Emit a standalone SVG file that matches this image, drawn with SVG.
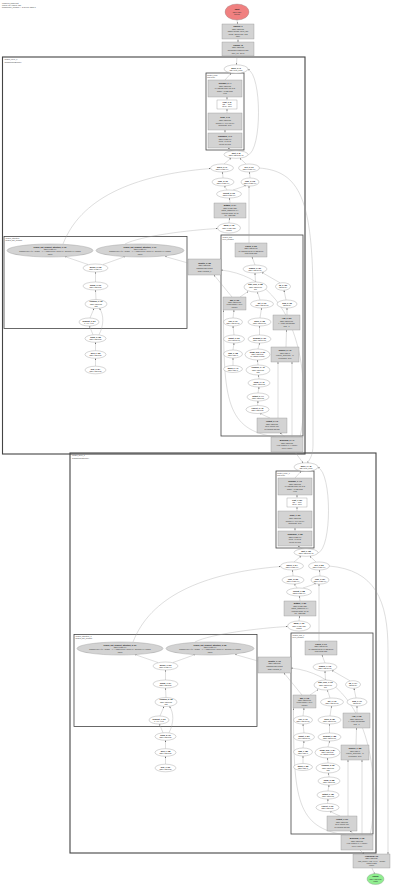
<svg xmlns="http://www.w3.org/2000/svg" width="400" height="886" viewBox="0 0 400 886">
<style>
text{font-family:"Liberation Sans",Arial,sans-serif;font-size:1.9px;fill:#333;text-anchor:middle}
.h{text-anchor:start;fill:#444}
.b{font-weight:bold;fill:#111}
.n ellipse{fill:#fff;stroke:#8a8a8a;stroke-width:0.35}
.g rect{fill:#d3d3d3;stroke:#8a8a8a;stroke-width:0.35}
.w rect{fill:#fff;stroke:#8a8a8a;stroke-width:0.35}
.G ellipse{fill:#d3d3d3;stroke:#8a8a8a;stroke-width:0.35}
.cl{fill:none;stroke:#444;stroke-width:0.8}
.co{fill:none;stroke:#444;stroke-width:1.1}
#edges path{fill:none;stroke:#a0a0a0;stroke-width:0.35;marker-end:url(#a)}
</style>
<defs>
<marker id="a" viewBox="0 0 10 10" refX="10" refY="5" markerUnits="userSpaceOnUse" markerWidth="1.6" markerHeight="1.6" orient="auto"><path d="M0,0L10,5L0,10z" fill="#666"/></marker>
</defs>
<rect width="400" height="886" fill="#fff"/>
<g id="header"><text class="h" x="2" y="3.5">compiled_graph.dot</text><text class="h" x="2" y="5.7">nodes: 114  edges: 136</text><text class="h" x="2" y="7.9">transformer_forward — 2 layers, batch 1</text></g>

<g id="clusters">
<rect class="co" x="2.5" y="57" width="302.5" height="397"/>
<text class="h" x="4.5" y="60.3">cluster_layer_0</text><text class="h" x="4.5" y="62.5">TransformerBlock[0]</text>
<rect class="cl" x="206" y="73" width="38" height="77"/>
<text class="h" x="207" y="75.8">cluster_body</text><text class="h" x="207" y="77.9">loop body</text>
<rect class="cl" x="4" y="236.5" width="183" height="92"/>
<text class="h" x="5.5" y="239.3">cluster_attention</text><text class="h" x="5.5" y="241.4">scaled_dot_product</text>
<rect class="cl" x="221" y="235" width="82" height="201"/>
<text class="h" x="222.5" y="237.8">cluster_mlp</text><text class="h" x="222.5" y="239.9">feed_forward</text>
<g transform="translate(70,398)">
<rect class="co" x="0" y="55" width="306" height="400"/>
<text class="h" x="2" y="58.3">cluster_layer_1</text><text class="h" x="2" y="60.5">TransformerBlock[1]</text>
<rect class="cl" x="206" y="73" width="38" height="77"/>
<text class="h" x="207" y="75.8">cluster_body_1</text><text class="h" x="207" y="77.9">loop body</text>
<rect class="cl" x="4" y="236.5" width="183" height="92"/>
<text class="h" x="5.5" y="239.3">cluster_attention_1</text><text class="h" x="5.5" y="241.4">scaled_dot_product</text>
<rect class="cl" x="221" y="235" width="82" height="201"/>
<text class="h" x="222.5" y="237.8">cluster_mlp_1</text><text class="h" x="222.5" y="239.9">feed_forward</text>
</g>
</g>

<g id="edges">
<path d="M237,20L237.5,24"/>
<path d="M238,39L238,42"/>
<path d="M237,56L236.5,64.8"/>
<path d="M259,168C300,171 313,200 313,300L313,445C313,455 310,459 307.5,462.8"/>
<path d="M295,452L303,462.9"/>
<path d="M360,850L364,854"/>
<path d="M372,868L374.5,874"/>
<g id="edges-l0">
<path d="M225,80L231,73.3"/>
<path d="M227,100L227,97"/>
<path d="M227,113L227,109"/>
<path d="M225,133L225,130"/>
<path d="M232,150.7L228,148"/>
<path d="M248,155C262,150 262,75 248,69.5"/>
<path d="M224,164L231,158.2"/>
<path d="M246,164L240,158.2"/>
<path d="M223,178L222.5,172"/>
<path d="M250,178L249.5,172"/>
<path d="M227,190L224.5,186"/>
<path d="M233,190L246,185.6"/>
<path d="M230,203L229.5,198"/>
<path d="M229,223L229.5,218"/>
<path d="M249,243L249,186"/>
<path d="M63,244C80,200 130,175 210.6,168.5"/>
<path d="M125,244C140,236 190,230 217.6,228.5"/>
<path d="M88,264.5L65,256.6"/>
<path d="M103,264.5L125,256.6"/>
<path d="M188,263L165,256.5"/>
<path d="M95.5,282L95.5,272"/>
<path d="M96,299.5L95.5,290"/>
<path d="M90,318L94,308.5"/>
<path d="M93,334.8L89.5,326"/>
<path d="M99,334.8C104,325 104,315 99.5,308.3"/>
<path d="M95.5,350.7L95.5,342.3"/>
<path d="M95.5,366.2L95.5,358.3"/>
<path d="M232,297L214,275"/>
<path d="M300,437C309,400 309,280 221,270"/>
<path d="M255,265L252,257"/>
<path d="M255.5,282L255,273"/>
<path d="M280,282.8L262,272.5"/>
<path d="M240,297L248,291.5"/>
<path d="M260,300L257.5,292"/>
<path d="M286,300L284,290.3"/>
<path d="M233,318L234,310"/>
<path d="M260,318L261.5,308"/>
<path d="M287,315L287,308"/>
<path d="M234,335L233,326"/>
<path d="M259.5,335L259.5,326"/>
<path d="M233,350L234,343"/>
<path d="M258,349L259.5,343"/>
<path d="M286,347L286.5,330"/>
<path d="M233,365.5L233,358"/>
<path d="M258,365L257.5,360"/>
<path d="M259,379L258.5,375"/>
<path d="M258,393L259,387"/>
<path d="M257.5,405.5L258,401"/>
<path d="M270,418L260,413.5"/>
<path d="M285,437L280,433"/>
<path d="M292,437L292,362"/>
<path d="M278,418L278,362"/>
<path d="M276,437C226,430 223.5,400 223.5,310.2"/>
</g>
<g id="edges-l1" transform="translate(70,398)">
<path d="M259,168C305,172 318,202 318,252L318,456"/>
<path d="M225,80L231,73.3"/>
<path d="M227,100L227,97"/>
<path d="M227,113L227,109"/>
<path d="M225,133L225,130"/>
<path d="M232,150.7L228,148"/>
<path d="M248,155C262,150 262,75 248,69.5"/>
<path d="M224,164L231,158.2"/>
<path d="M246,164L240,158.2"/>
<path d="M223,178L222.5,172"/>
<path d="M250,178L249.5,172"/>
<path d="M227,190L224.5,186"/>
<path d="M233,190L246,185.6"/>
<path d="M230,203L229.5,198"/>
<path d="M229,223L229.5,218"/>
<path d="M249,243L249,186"/>
<path d="M63,244C80,200 130,175 210.6,168.5"/>
<path d="M125,244C140,236 190,230 217.6,228.5"/>
<path d="M88,264.5L65,256.6"/>
<path d="M103,264.5L125,256.6"/>
<path d="M188,263L165,256.5"/>
<path d="M95.5,282L95.5,272"/>
<path d="M96,299.5L95.5,290"/>
<path d="M90,318L94,308.5"/>
<path d="M93,334.8L89.5,326"/>
<path d="M99,334.8C104,325 104,315 99.5,308.3"/>
<path d="M95.5,350.7L95.5,342.3"/>
<path d="M95.5,366.2L95.5,358.3"/>
<path d="M232,297L214,275"/>
<path d="M300,437C309,400 309,280 221,270"/>
<path d="M255,265L252,257"/>
<path d="M255.5,282L255,273"/>
<path d="M280,282.8L262,272.5"/>
<path d="M240,297L248,291.5"/>
<path d="M260,300L257.5,292"/>
<path d="M286,300L284,290.3"/>
<path d="M233,318L234,310"/>
<path d="M260,318L261.5,308"/>
<path d="M287,315L287,308"/>
<path d="M234,335L233,326"/>
<path d="M259.5,335L259.5,326"/>
<path d="M233,350L234,343"/>
<path d="M258,349L259.5,343"/>
<path d="M286,347L286.5,330"/>
<path d="M233,365.5L233,358"/>
<path d="M258,365L257.5,360"/>
<path d="M259,379L258.5,375"/>
<path d="M258,393L259,387"/>
<path d="M257.5,405.5L258,401"/>
<path d="M270,418L260,413.5"/>
<path d="M285,437L280,433"/>
<path d="M292,437L292,362"/>
<path d="M278,418L278,362"/>
<path d="M276,437C226,430 223.5,400 223.5,310.2"/>
</g>
</g>

<g id="start" class="n"><ellipse cx="237" cy="12" rx="12" ry="8" style="fill:#f08080"/><text class="b" x="237" y="10.3">input</text><text x="237" y="12.6">f32[1,128]</text><text x="237" y="14.9">tokens</text></g>
<g id="embed" class="g"><rect x="222" y="24" width="32" height="15"/><text class="b" x="238" y="27.15">Embed #1</text><text x="238" y="29.65">f32[1,128,512]</text><text x="238" y="32.15">gather(weight, input_ids)</text><text x="238" y="34.65">vocab=32000 dim=512</text><text x="238" y="37.15">table</text></g>
<g id="posenc" class="g"><rect x="222" y="42" width="32" height="14"/><text class="b" x="238" y="45.75">PosEnc #2</text><text x="238" y="48.35">f32[1,128,512]</text><text x="238" y="50.95">sinusoidal positional add</text><text x="238" y="53.55">max_len=2048</text></g>

<g id="layer0">
<g id="while_0" class="n"><ellipse cx="236" cy="69" rx="12" ry="4.2"/><text class="b" x="236" y="68.55">while_0 #3</text><text x="236" y="70.75">i32[] loop_cond</text></g>
<g id="reshape_0" class="g"><rect x="208" y="80" width="34" height="17"/><text class="b" x="225" y="84">Reshape_0 #4</text><text x="225" y="86.6">f32[1,128,512]</text><text x="225" y="89.2">in: f32[128,512] out: 3-D</text><text x="225" y="91.8">shape=(1,128,512)</text><text x="225" y="94.4">view</text></g>
<g id="cast_0" class="w"><rect x="217" y="100" width="20" height="9"/><text class="b" x="227" y="102.85">Cast_0 #5</text><text x="227" y="105.15">f32 → bf16</text><text x="227" y="107.45">dtype=bf16</text></g>
<g id="scale_0" class="g"><rect x="208" y="113" width="34" height="17"/><text class="b" x="225" y="117.95">Scale_0 #6</text><text x="225" y="120.75">f32[1,128,512]</text><text x="225" y="123.55">multiply(x, 0.0441941)</text><text x="225" y="126.35">broadcast=True</text></g>
<g id="transpose_0" class="g"><rect x="208" y="133" width="34" height="15"/><text class="b" x="225" y="137.25">Transpose_0 #7</text><text x="225" y="139.85">f32[1,8,128,64]</text><text x="225" y="142.45">perm=(0,2,1,3)</text><text x="225" y="145.05">layout: NHWC</text></g>
<g id="split_0" class="n"><ellipse cx="236" cy="154.5" rx="12" ry="3.8"/><text class="b" x="236" y="154.05">split_0 #8</text><text x="236" y="156.25">f32[1,128,512] x2</text></g>
<g id="query_0" class="n"><ellipse cx="222" cy="168" rx="11.5" ry="4"/><text class="b" x="222" y="167.55">query_0 #9</text><text x="222" y="169.75">f32[1,8,128,64]</text></g>
<g id="key_0" class="n"><ellipse cx="249" cy="168" rx="10.5" ry="4"/><text class="b" x="249" y="167.55">key_0 #10</text><text x="249" y="169.75">f32[1,8,128,64]</text></g>
<g id="rope_q_0" class="n"><ellipse cx="223" cy="182" rx="11" ry="4"/><text class="b" x="223" y="181.55">rope_q #11</text><text x="223" y="183.75">f32[1,8,128,64]</text></g>
<g id="rope_k_0" class="n"><ellipse cx="250" cy="182" rx="9" ry="4"/><text class="b" x="250" y="181.55">rope_k #12</text><text x="250" y="183.75">f32[1,8,128,64]</text></g>
<g id="concat_0" class="n"><ellipse cx="229" cy="194" rx="12.5" ry="4"/><text class="b" x="229" y="193.55">concat_0 #13</text><text x="229" y="195.75">f32[2,8,128,64]</text></g>
<g id="matmul_0" class="g"><rect x="214" y="203" width="32" height="15"/><text class="b" x="230" y="206.15">MatMul_0 #14</text><text x="230" y="208.65">f32[1,8,128,128]</text><text x="230" y="211.15">batch_matmul(q, kᵀ)</text><text x="230" y="213.65">contract dims: [3],[3]</text><text x="230" y="216.15">tile=128x128</text></g>
<g id="mask_0" class="n"><ellipse cx="229" cy="228" rx="11.5" ry="5"/><text class="b" x="229" y="226.45">mask_0 #15</text><text x="229" y="228.65">f32[1,1,128,128]</text><text x="229" y="230.85">causal</text></g>
<g id="sdpa_0a" class="G"><ellipse cx="50" cy="250.5" rx="43" ry="6.5"/><text class="b" x="50" y="247.7">scaled_dot_product_attention_0 #16</text><text x="50" y="250">f32[1,8,128,64]</text><text x="50" y="252.3">softmax(QKᵀ/√d + mask) · V — flash kernel, block 64, dropout 0.0, causal</text><text x="50" y="254.6">fused</text></g>
<g id="sdpa_0b" class="G"><ellipse cx="140" cy="250.5" rx="44" ry="6.5"/><text class="b" x="140" y="247.7">scaled_dot_product_attention_1 #17</text><text x="140" y="250">f32[1,8,128,64]</text><text x="140" y="252.3">softmax(QKᵀ/√d + mask) · V — flash kernel, block 64, dropout 0.0, causal</text><text x="140" y="254.6">fused</text></g>
<g id="merge_0" class="n"><ellipse cx="95.5" cy="268" rx="12.5" ry="4"/><text class="b" x="95.5" y="267.55">merge_0 #18</text><text x="95.5" y="269.75">f32[1,8,128,64]</text></g>
<g id="heads_0" class="n"><ellipse cx="95.5" cy="286" rx="12.5" ry="4"/><text class="b" x="95.5" y="285.55">heads_0 #19</text><text x="95.5" y="287.75">f32[1,128,512]</text></g>
<g id="residual_0" class="n"><ellipse cx="96" cy="304" rx="11" ry="4.5"/><text class="b" x="96" y="302.45">residual_0 #20</text><text x="96" y="304.65">f32[1,128,512]</text><text x="96" y="306.85">add</text></g>
<g id="dropout_0" class="n"><ellipse cx="89" cy="322" rx="10" ry="4"/><text class="b" x="89" y="321.55">dropout_0 #21</text><text x="89" y="323.75">p=0.0, eval</text></g>
<g id="norm_0" class="n"><ellipse cx="95.5" cy="338.5" rx="10.5" ry="3.8"/><text class="b" x="95.5" y="338.05">norm_0 #22</text><text x="95.5" y="340.25">f32[1,128,512]</text></g>
<g id="gelu_0" class="n"><ellipse cx="95.5" cy="354.5" rx="10.5" ry="3.8"/><text class="b" x="95.5" y="354.05">gelu_0 #23</text><text x="95.5" y="356.25">f32[1,128,512]</text></g>
<g id="proj_0" class="n"><ellipse cx="95.5" cy="370" rx="10.5" ry="3.8"/><text class="b" x="95.5" y="369.55">proj_0 #24</text><text x="95.5" y="371.75">f32[1,128,512]</text></g>
<g id="identity_0" class="g"><rect x="188" y="259" width="33" height="16"/><text class="b" x="204.5" y="263.75">Identity_0 #25</text><text x="204.5" y="266.35">f32[1,128,512]</text><text x="204.5" y="268.95">passthrough output</text><text x="204.5" y="271.55">alias: residual_0</text></g>
<g id="linear_0" class="g"><rect x="235" y="243" width="32" height="14"/><text class="b" x="251" y="246.9">Linear_0 #26</text><text x="251" y="249.4">f32[1,128,2048]</text><text x="251" y="251.9">W: f32[512,2048] b: f32[2048]</text><text x="251" y="254.4">fused bias add</text></g>
<g id="hidden_0" class="n"><ellipse cx="255" cy="269" rx="12" ry="4"/><text class="b" x="255" y="268.55">hidden_0 #27</text><text x="255" y="270.75">f32[1,128,2048]</text></g>
<g id="gate_0" class="n"><ellipse cx="255.5" cy="287" rx="11.5" ry="5"/><text class="b" x="255.5" y="285.45">gate_proj_0 #28</text><text x="255.5" y="287.65">f32[1,128,2048]</text><text x="255.5" y="289.85">silu</text></g>
<g id="up_0" class="n"><ellipse cx="283" cy="286.5" rx="7.5" ry="3.8"/><text class="b" x="283" y="286.05">up_0 #29</text><text x="283" y="288.25">f32[2048]</text></g>
<g id="mul_0" class="g"><rect x="223" y="297" width="23" height="13"/><text class="b" x="234.5" y="300.55">Mul_0 #30</text><text x="234.5" y="302.95">f32[1,128,2048]</text><text x="234.5" y="305.35">elementwise x·σ(x)</text><text x="234.5" y="307.75">inplace</text></g>
<g id="act_0" class="n"><ellipse cx="262" cy="304" rx="11.5" ry="4"/><text class="b" x="262" y="303.55">act_0 #31</text><text x="262" y="305.75">f32[1,128,2048]</text></g>
<g id="bias_0" class="n"><ellipse cx="287" cy="304" rx="10" ry="4"/><text class="b" x="287" y="303.55">bias_0 #32</text><text x="287" y="305.75">f32[2048]</text></g>
<g id="add_0" class="g"><rect x="273" y="315" width="27" height="15"/><text class="b" x="286.5" y="319.25">Add_0 #33</text><text x="286.5" y="321.85">f32[1,128,2048]</text><text x="286.5" y="324.45">x + bias (broadcast)</text><text x="286.5" y="327.05">axis=-1</text></g>
<g id="clip_0" class="n"><ellipse cx="233" cy="322" rx="9.5" ry="4"/><text class="b" x="233" y="321.55">clip_0 #34</text><text x="233" y="323.75">f32[1,128,2048]</text></g>
<g id="scale_1" class="n"><ellipse cx="259.5" cy="322" rx="11.5" ry="4"/><text class="b" x="259.5" y="321.55">scale_1 #35</text><text x="259.5" y="323.75">f32[1,128,2048]</text></g>
<g id="quant_0" class="n"><ellipse cx="234" cy="339" rx="10.5" ry="4"/><text class="b" x="234" y="338.55">quant_0 #36</text><text x="234" y="340.75">i8[1,128,2048]</text></g>
<g id="dequant_0" class="n"><ellipse cx="259.5" cy="339" rx="11.5" ry="4"/><text class="b" x="259.5" y="338.55">dequant_0 #37</text><text x="259.5" y="340.75">f32[1,128,2048]</text></g>
<g id="sum_0" class="n"><ellipse cx="233" cy="354" rx="9.5" ry="4"/><text class="b" x="233" y="353.55">sum_0 #38</text><text x="233" y="355.75">f32[1,128,1]</text></g>
<g id="down_0" class="n"><ellipse cx="257.5" cy="354.5" rx="12.5" ry="5.5"/><text class="b" x="257.5" y="352.95">down_proj_0 #39</text><text x="257.5" y="355.15">f32[1,128,512]</text><text x="257.5" y="357.35">W: f32[2048,512]</text></g>
<g id="reduce_0" class="g"><rect x="271" y="347" width="28" height="15"/><text class="b" x="285" y="351.25">Reduce_0 #40</text><text x="285" y="353.85">f32[1,128,1]</text><text x="285" y="356.45">reduce_sum(axis=-1)</text><text x="285" y="359.05">keepdims=True</text></g>
<g id="mean_0" class="n"><ellipse cx="233" cy="369" rx="9.5" ry="3.5"/><text class="b" x="233" y="368.55">mean_0 #41</text><text x="233" y="370.75">f32[1,128,1]</text></g>
<g id="residual_1" class="n"><ellipse cx="258" cy="370" rx="12" ry="5"/><text class="b" x="258" y="368.45">residual_1 #42</text><text x="258" y="370.65">f32[1,128,512]</text><text x="258" y="372.85">add</text></g>
<g id="norm_1" class="n"><ellipse cx="259" cy="383" rx="11" ry="4"/><text class="b" x="259" y="382.55">norm_1 #43</text><text x="259" y="384.75">f32[1,128,512]</text></g>
<g id="output_0" class="n"><ellipse cx="258" cy="397" rx="11" ry="4"/><text class="b" x="258" y="396.55">output_0 #44</text><text x="258" y="398.75">f32[1,128,512]</text></g>
<g id="collect_0" class="n"><ellipse cx="257.5" cy="409.5" rx="11.5" ry="4"/><text class="b" x="257.5" y="409.05">collect_0 #45</text><text x="257.5" y="411.25">f32[1,128,512]</text></g>
<g id="ffn_out_0" class="g"><rect x="257" y="418" width="30" height="15"/><text class="b" x="272" y="422.25">Output_0 #46</text><text x="272" y="424.85">f32[1,128,512]</text><text x="272" y="427.45">layer output (ffn)</text><text x="272" y="430.05">to residual stream</text></g>
<g id="block_end_0" class="g"><rect x="271" y="437" width="32" height="15"/><text class="b" x="287" y="441.25">BlockEnd_0 #47</text><text x="287" y="443.85">f32[1,128,512]</text><text x="287" y="446.45">yield (hidden, k, v cache)</text><text x="287" y="449.05">layer 0 done</text></g>
</g>

<g id="layer1" transform="translate(70,398)">
<g id="while_1" class="n"><ellipse cx="236" cy="69" rx="12" ry="4.2"/><text class="b" x="236" y="68.55">while_1 #48</text><text x="236" y="70.75">i32[] loop_cond</text></g>
<g id="reshape_1" class="g"><rect x="208" y="80" width="34" height="17"/><text class="b" x="225" y="84">Reshape_1 #49</text><text x="225" y="86.6">f32[1,128,512]</text><text x="225" y="89.2">in: f32[128,512] out: 3-D</text><text x="225" y="91.8">shape=(1,128,512)</text><text x="225" y="94.4">view</text></g>
<g id="cast_1" class="w"><rect x="217" y="100" width="20" height="9"/><text class="b" x="227" y="102.85">Cast_1 #50</text><text x="227" y="105.15">f32 → bf16</text><text x="227" y="107.45">dtype=bf16</text></g>
<g id="scale_1b" class="g"><rect x="208" y="113" width="34" height="17"/><text class="b" x="225" y="117.95">Scale_1 #51</text><text x="225" y="120.75">f32[1,128,512]</text><text x="225" y="123.55">multiply(x, 0.0441941)</text><text x="225" y="126.35">broadcast=True</text></g>
<g id="transpose_1" class="g"><rect x="208" y="133" width="34" height="15"/><text class="b" x="225" y="137.25">Transpose_1 #52</text><text x="225" y="139.85">f32[1,8,128,64]</text><text x="225" y="142.45">perm=(0,2,1,3)</text><text x="225" y="145.05">layout: NHWC</text></g>
<g id="split_1" class="n"><ellipse cx="236" cy="154.5" rx="12" ry="3.8"/><text class="b" x="236" y="154.05">split_1 #53</text><text x="236" y="156.25">f32[1,128,512] x2</text></g>
<g id="query_1" class="n"><ellipse cx="222" cy="168" rx="11.5" ry="4"/><text class="b" x="222" y="167.55">query_1 #54</text><text x="222" y="169.75">f32[1,8,128,64]</text></g>
<g id="key_1" class="n"><ellipse cx="249" cy="168" rx="10.5" ry="4"/><text class="b" x="249" y="167.55">key_1 #55</text><text x="249" y="169.75">f32[1,8,128,64]</text></g>
<g id="rope_q_1" class="n"><ellipse cx="223" cy="182" rx="11" ry="4"/><text class="b" x="223" y="181.55">rope_q #56</text><text x="223" y="183.75">f32[1,8,128,64]</text></g>
<g id="rope_k_1" class="n"><ellipse cx="250" cy="182" rx="9" ry="4"/><text class="b" x="250" y="181.55">rope_k #57</text><text x="250" y="183.75">f32[1,8,128,64]</text></g>
<g id="concat_1" class="n"><ellipse cx="229" cy="194" rx="12.5" ry="4"/><text class="b" x="229" y="193.55">concat_1 #58</text><text x="229" y="195.75">f32[2,8,128,64]</text></g>
<g id="matmul_1" class="g"><rect x="214" y="203" width="32" height="15"/><text class="b" x="230" y="206.15">MatMul_1 #59</text><text x="230" y="208.65">f32[1,8,128,128]</text><text x="230" y="211.15">batch_matmul(q, kᵀ)</text><text x="230" y="213.65">contract dims: [3],[3]</text><text x="230" y="216.15">tile=128x128</text></g>
<g id="mask_1" class="n"><ellipse cx="229" cy="228" rx="11.5" ry="5"/><text class="b" x="229" y="226.45">mask_1 #60</text><text x="229" y="228.65">f32[1,1,128,128]</text><text x="229" y="230.85">causal</text></g>
<g id="sdpa_1a" class="G"><ellipse cx="50" cy="250.5" rx="43" ry="6.5"/><text class="b" x="50" y="247.7">scaled_dot_product_attention_2 #61</text><text x="50" y="250">f32[1,8,128,64]</text><text x="50" y="252.3">softmax(QKᵀ/√d + mask) · V — flash kernel, block 64, dropout 0.0, causal</text><text x="50" y="254.6">fused</text></g>
<g id="sdpa_1b" class="G"><ellipse cx="140" cy="250.5" rx="44" ry="6.5"/><text class="b" x="140" y="247.7">scaled_dot_product_attention_3 #62</text><text x="140" y="250">f32[1,8,128,64]</text><text x="140" y="252.3">softmax(QKᵀ/√d + mask) · V — flash kernel, block 64, dropout 0.0, causal</text><text x="140" y="254.6">fused</text></g>
<g id="merge_1" class="n"><ellipse cx="95.5" cy="268" rx="12.5" ry="4"/><text class="b" x="95.5" y="267.55">merge_1 #63</text><text x="95.5" y="269.75">f32[1,8,128,64]</text></g>
<g id="heads_1" class="n"><ellipse cx="95.5" cy="286" rx="12.5" ry="4"/><text class="b" x="95.5" y="285.55">heads_1 #64</text><text x="95.5" y="287.75">f32[1,128,512]</text></g>
<g id="residual_2" class="n"><ellipse cx="96" cy="304" rx="11" ry="4.5"/><text class="b" x="96" y="302.45">residual_2 #65</text><text x="96" y="304.65">f32[1,128,512]</text><text x="96" y="306.85">add</text></g>
<g id="dropout_1" class="n"><ellipse cx="89" cy="322" rx="10" ry="4"/><text class="b" x="89" y="321.55">dropout_1 #66</text><text x="89" y="323.75">p=0.0, eval</text></g>
<g id="norm_2" class="n"><ellipse cx="95.5" cy="338.5" rx="10.5" ry="3.8"/><text class="b" x="95.5" y="338.05">norm_2 #67</text><text x="95.5" y="340.25">f32[1,128,512]</text></g>
<g id="gelu_1" class="n"><ellipse cx="95.5" cy="354.5" rx="10.5" ry="3.8"/><text class="b" x="95.5" y="354.05">gelu_1 #68</text><text x="95.5" y="356.25">f32[1,128,512]</text></g>
<g id="proj_1" class="n"><ellipse cx="95.5" cy="370" rx="10.5" ry="3.8"/><text class="b" x="95.5" y="369.55">proj_1 #69</text><text x="95.5" y="371.75">f32[1,128,512]</text></g>
<g id="identity_1" class="g"><rect x="188" y="259" width="33" height="16"/><text class="b" x="204.5" y="263.75">Identity_1 #70</text><text x="204.5" y="266.35">f32[1,128,512]</text><text x="204.5" y="268.95">passthrough output</text><text x="204.5" y="271.55">alias: residual_2</text></g>
<g id="linear_1" class="g"><rect x="235" y="243" width="32" height="14"/><text class="b" x="251" y="246.9">Linear_1 #71</text><text x="251" y="249.4">f32[1,128,2048]</text><text x="251" y="251.9">W: f32[512,2048] b: f32[2048]</text><text x="251" y="254.4">fused bias add</text></g>
<g id="hidden_1" class="n"><ellipse cx="255" cy="269" rx="12" ry="4"/><text class="b" x="255" y="268.55">hidden_1 #72</text><text x="255" y="270.75">f32[1,128,2048]</text></g>
<g id="gate_1" class="n"><ellipse cx="255.5" cy="287" rx="11.5" ry="5"/><text class="b" x="255.5" y="285.45">gate_proj_1 #73</text><text x="255.5" y="287.65">f32[1,128,2048]</text><text x="255.5" y="289.85">silu</text></g>
<g id="up_1" class="n"><ellipse cx="283" cy="286.5" rx="7.5" ry="3.8"/><text class="b" x="283" y="286.05">up_1 #74</text><text x="283" y="288.25">f32[2048]</text></g>
<g id="mul_1" class="g"><rect x="223" y="297" width="23" height="13"/><text class="b" x="234.5" y="300.55">Mul_1 #75</text><text x="234.5" y="302.95">f32[1,128,2048]</text><text x="234.5" y="305.35">elementwise x·σ(x)</text><text x="234.5" y="307.75">inplace</text></g>
<g id="act_1" class="n"><ellipse cx="262" cy="304" rx="11.5" ry="4"/><text class="b" x="262" y="303.55">act_1 #76</text><text x="262" y="305.75">f32[1,128,2048]</text></g>
<g id="bias_1" class="n"><ellipse cx="287" cy="304" rx="10" ry="4"/><text class="b" x="287" y="303.55">bias_1 #77</text><text x="287" y="305.75">f32[2048]</text></g>
<g id="add_1" class="g"><rect x="273" y="315" width="27" height="15"/><text class="b" x="286.5" y="319.25">Add_1 #78</text><text x="286.5" y="321.85">f32[1,128,2048]</text><text x="286.5" y="324.45">x + bias (broadcast)</text><text x="286.5" y="327.05">axis=-1</text></g>
<g id="clip_1" class="n"><ellipse cx="233" cy="322" rx="9.5" ry="4"/><text class="b" x="233" y="321.55">clip_1 #79</text><text x="233" y="323.75">f32[1,128,2048]</text></g>
<g id="scale_2" class="n"><ellipse cx="259.5" cy="322" rx="11.5" ry="4"/><text class="b" x="259.5" y="321.55">scale_2 #80</text><text x="259.5" y="323.75">f32[1,128,2048]</text></g>
<g id="quant_1" class="n"><ellipse cx="234" cy="339" rx="10.5" ry="4"/><text class="b" x="234" y="338.55">quant_1 #81</text><text x="234" y="340.75">i8[1,128,2048]</text></g>
<g id="dequant_1" class="n"><ellipse cx="259.5" cy="339" rx="11.5" ry="4"/><text class="b" x="259.5" y="338.55">dequant_1 #82</text><text x="259.5" y="340.75">f32[1,128,2048]</text></g>
<g id="sum_1" class="n"><ellipse cx="233" cy="354" rx="9.5" ry="4"/><text class="b" x="233" y="353.55">sum_1 #83</text><text x="233" y="355.75">f32[1,128,1]</text></g>
<g id="down_1" class="n"><ellipse cx="257.5" cy="354.5" rx="12.5" ry="5.5"/><text class="b" x="257.5" y="352.95">down_proj_1 #84</text><text x="257.5" y="355.15">f32[1,128,512]</text><text x="257.5" y="357.35">W: f32[2048,512]</text></g>
<g id="reduce_1" class="g"><rect x="271" y="347" width="28" height="15"/><text class="b" x="285" y="351.25">Reduce_1 #85</text><text x="285" y="353.85">f32[1,128,1]</text><text x="285" y="356.45">reduce_sum(axis=-1)</text><text x="285" y="359.05">keepdims=True</text></g>
<g id="mean_1" class="n"><ellipse cx="233" cy="369" rx="9.5" ry="3.5"/><text class="b" x="233" y="368.55">mean_1 #86</text><text x="233" y="370.75">f32[1,128,1]</text></g>
<g id="residual_3" class="n"><ellipse cx="258" cy="370" rx="12" ry="5"/><text class="b" x="258" y="368.45">residual_3 #87</text><text x="258" y="370.65">f32[1,128,512]</text><text x="258" y="372.85">add</text></g>
<g id="norm_3" class="n"><ellipse cx="259" cy="383" rx="11" ry="4"/><text class="b" x="259" y="382.55">norm_3 #88</text><text x="259" y="384.75">f32[1,128,512]</text></g>
<g id="output_1" class="n"><ellipse cx="258" cy="397" rx="11" ry="4"/><text class="b" x="258" y="396.55">output_1 #89</text><text x="258" y="398.75">f32[1,128,512]</text></g>
<g id="collect_1" class="n"><ellipse cx="257.5" cy="409.5" rx="11.5" ry="4"/><text class="b" x="257.5" y="409.05">collect_1 #90</text><text x="257.5" y="411.25">f32[1,128,512]</text></g>
<g id="ffn_out_1" class="g"><rect x="257" y="418" width="30" height="15"/><text class="b" x="272" y="422.25">Output_1 #91</text><text x="272" y="424.85">f32[1,128,512]</text><text x="272" y="427.45">layer output (ffn)</text><text x="272" y="430.05">to residual stream</text></g>
<g id="block_end_1" class="g"><rect x="271" y="437" width="32" height="15"/><text class="b" x="287" y="441.25">BlockEnd_1 #92</text><text x="287" y="443.85">f32[1,128,512]</text><text x="287" y="446.45">yield (hidden, k, v cache)</text><text x="287" y="449.05">layer 1 done</text></g>
</g>

<g id="final_norm" class="g"><rect x="353" y="854" width="37" height="14"/><text class="b" x="371.5" y="856.85">FinalNorm #93</text><text x="371.5" y="859.25">f32[1,128,512]</text><text x="371.5" y="861.65">rms_norm(x, eps=1e-6) · weight</text><text x="371.5" y="864.05">output logits</text><text x="371.5" y="866.45">return</text></g>
<g id="end" class="n"><ellipse cx="375.5" cy="879" rx="8.5" ry="5.5" style="fill:#90ee90"/><text class="b" x="375.5" y="877.35">output</text><text x="375.5" y="879.65">f32[1,128,512]</text><text x="375.5" y="881.95">logits</text></g>
</svg>
